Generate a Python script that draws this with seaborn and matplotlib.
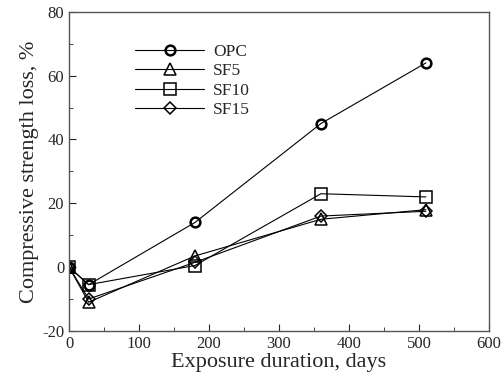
import matplotlib
matplotlib.use("Agg")
import matplotlib.pyplot as plt
import seaborn as sns
import pandas as pd
from matplotlib.ticker import MultipleLocator

days = [0, 28, 180, 360, 510]
opc = [0, -5.5, 14, 45, 64]
sf5 = [0, -11, 3.5, 15, 18]
sf10 = [0, -5.5, 0.5, 23, 22]
sf15 = [0, -10, 1.5, 16, 17.5]

series = {"OPC": (opc, "o", 7), "SF5": (sf5, "^", 8), "SF10": (sf10, "s", 8), "SF15": (sf15, "D", 6)}

sns.set_style("ticks")
plt.rcParams["font.family"] = ["Liberation Serif", "DejaVu Serif"]
plt.rcParams["axes.unicode_minus"] = False

fig = plt.figure(figsize=(5.04, 3.83), dpi=100)
ax = fig.add_axes([0.137, 0.136, 0.833, 0.833])

for name, (vals, mk, ms) in series.items():
    df = pd.DataFrame({"days": days, "loss": vals})
    sns.lineplot(data=df, x="days", y="loss", ax=ax, color="black", lw=0.8,
                 marker=mk, markersize=ms, mfc="none", mec="black",
                 mew=1.8 if name == "OPC" else 1.1, label=name)

ax.set_xlim(0, 600)
ax.set_ylim(-20, 80)
ax.xaxis.set_major_locator(MultipleLocator(100))
ax.xaxis.set_minor_locator(MultipleLocator(50))
ax.yaxis.set_major_locator(MultipleLocator(20))
ax.yaxis.set_minor_locator(MultipleLocator(10))
ax.tick_params(which="both", direction="in", labelsize=12)
ax.tick_params(which="major", length=5)
ax.tick_params(which="minor", length=3)
for s in ax.spines.values():
    s.set_linewidth(1.0)
    s.set_color("#555555")

ax.set_xlabel("Exposure duration, days", fontsize=16, labelpad=1)
ax.set_ylabel("Compressive strength loss, %", fontsize=16, labelpad=2)

ax.legend(loc="upper left", bbox_to_anchor=(0.12, 0.95), frameon=False,
          handlelength=4.0, fontsize=12.5, labelspacing=0.2, handletextpad=0.5)

fig.savefig("out.png", dpi=100)
